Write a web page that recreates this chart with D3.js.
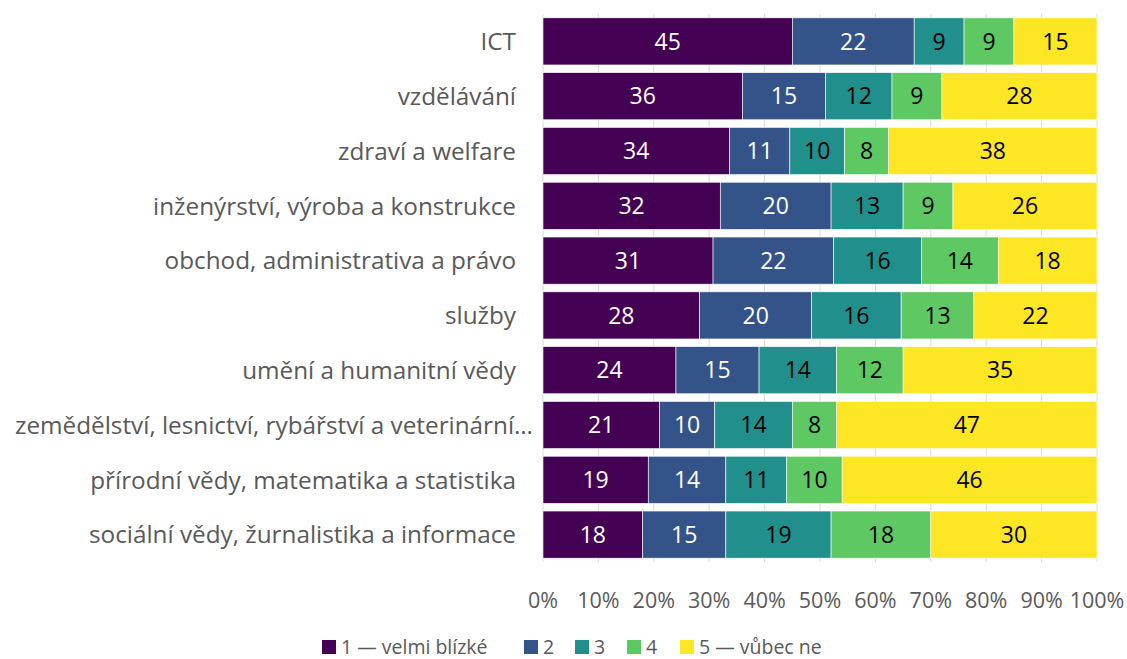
<!DOCTYPE html>
<html>
<head>
<meta charset="utf-8">
<title>Obory</title>
<script src="https://cdn.jsdelivr.net/npm/d3@7/dist/d3.min.js"></script>
<style>
body { margin: 0; background: #fff; font-family: 'Open Sans', sans-serif; }
text { fill: #595959; }
</style>
</head>
<body>
<script>
// data
var categories = ["ICT", "vzdělávání", "zdraví a welfare", "inženýrství, výroba a konstrukce",
  "obchod, administrativa a právo", "služby", "umění a humanitní vědy",
  "zemědělství, lesnictví, rybářství a veterinární…", "přírodní vědy, matematika a statistika",
  "sociální vědy, žurnalistika a informace"];
var seriesNames = ["1 — velmi blízké", "2", "3", "4", "5 — vůbec ne"];
var s1 = [45, 36, 34, 32, 31, 28, 24, 21, 19, 18];
var s2 = [22, 15, 11, 20, 22, 20, 15, 10, 14, 15];
var s3 = [9, 12, 10, 13, 16, 16, 14, 14, 11, 19];
var s4 = [9, 9, 8, 9, 14, 13, 12, 8, 10, 18];
var s5 = [15, 28, 38, 26, 18, 22, 35, 47, 46, 30];
var ticks = [0, 0.1, 0.2, 0.3, 0.4, 0.5, 0.6, 0.7, 0.8, 0.9, 1];

var colors = ["#440154", "#345489", "#21908c", "#5ec962", "#fde725"];
var labelColors = ["#fff", "#fff", "#000", "#000", "#000"];

var w = 1127, h = 659;
var svg = d3.select("body").append("svg").attr("width", w).attr("height", h);

var x = d3.scaleLinear().domain([0, 1]).range([543, 1097]);
var y = d3.scaleBand().domain(categories).range([14, 562]).paddingInner(0.14).paddingOuter(0.07);

var rows = categories.map(function(c, i) {
  var vals = [s1[i], s2[i], s3[i], s4[i], s5[i]];
  var tot = d3.sum(vals);
  var r = { cat: c };
  vals.forEach(function(v, k) { r["k" + k] = v / tot; r["v" + k] = v; });
  return r;
});
var stack = d3.stack().keys(["k0", "k1", "k2", "k3", "k4"])(rows);

// gridlines
svg.append("g").selectAll("line").data(ticks).enter().append("line")
  .attr("x1", function(d) { return x(d); }).attr("x2", function(d) { return x(d); })
  .attr("y1", 14).attr("y2", 562)
  .attr("stroke", "#d9d9d9").attr("stroke-width", 1);

var layer = svg.append("g").selectAll("g").data(stack).enter().append("g")
  .attr("fill", function(d, i) { return colors[i]; });

layer.selectAll("rect").data(function(d) { return d; }).enter().append("rect")
  .attr("x", function(d) { return x(d[0]); })
  .attr("width", function(d) { return x(d[1]) - x(d[0]); })
  .attr("y", function(d) { return y(d.data.cat); })
  .attr("height", y.bandwidth())
  .attr("stroke", "#fff").attr("stroke-width", 0.6);

layer.each(function(s, k) {
  d3.select(this).selectAll("text").data(s).enter().append("text")
    .attr("x", function(d) { return (x(d[0]) + x(d[1])) / 2; })
    .attr("y", function(d) { return y(d.data.cat) + y.bandwidth() / 2; })
    .attr("dy", "0.36em")
    .attr("text-anchor", "middle")
    .style("fill", labelColors[k])
    .style("font-size", "23px")
    .text(function(d) { return d.data["v" + k]; });
});

// category labels
svg.append("g").selectAll("text").data(categories).enter().append("text")
  .attr("x", function(d, i) { return i == 7 ? 533 : 516; })
  .attr("y", function(d) { return y(d) + y.bandwidth() / 2; })
  .attr("dy", "0.36em")
  .attr("text-anchor", "end")
  .style("font-size", "24.3px")
  .text(function(d) { return d; });

// x axis labels
svg.append("g").selectAll("text").data(ticks).enter().append("text")
  .attr("x", function(d) { return x(d); })
  .attr("y", 600)
  .attr("dy", "0.36em")
  .attr("text-anchor", "middle")
  .style("font-size", "21.5px")
  .text(function(d) { return d3.format(".0%")(d); });

// legend
var legX = [322, 524, 575, 627, 680];
var leg = svg.append("g").selectAll("g").data(seriesNames).enter().append("g")
  .attr("transform", function(d, i) { return "translate(" + legX[i] + ",647)"; });
leg.append("rect").attr("x", 0).attr("y", -7).attr("width", 14).attr("height", 14)
  .attr("fill", function(d, i) { return colors[i]; });
leg.append("text").attr("x", 19).attr("dy", "0.36em")
  .style("font-size", "19.5px")
  .text(function(d) { return d; });
</script>
</body>
</html>
